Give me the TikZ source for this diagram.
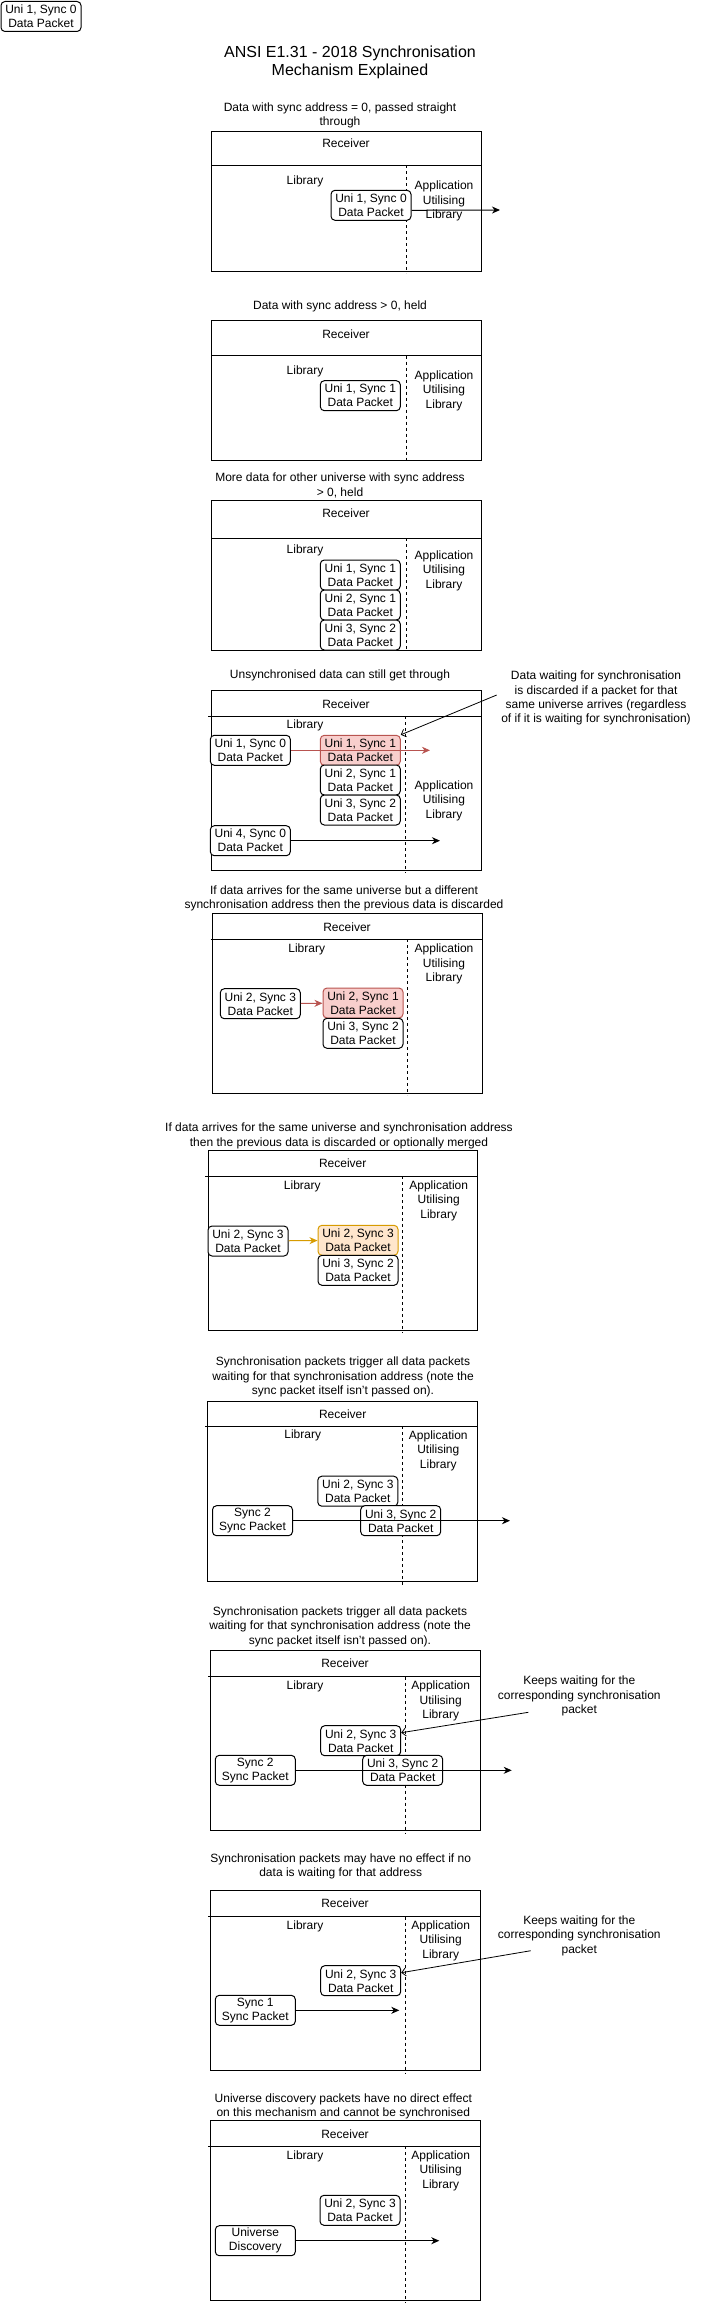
\documentclass[tikz,border=0pt]{standalone}
\usepackage{fontspec}
\setmainfont{Liberation Sans}
\usetikzlibrary{arrows.meta}
\definecolor{dropline}{HTML}{B85450}
\definecolor{dropfill}{HTML}{F8CECC}
\definecolor{mergeline}{HTML}{D79B00}
\definecolor{mergefill}{HTML}{FFE6CC}
\tikzset{
  packet/.style={draw, line width=1pt, rounded corners=4pt, fill=white,
    minimum width=80pt, minimum height=30pt, inner sep=0pt, align=center,
    font=\fontsize{12}{14}\selectfont},
  droppacket/.style={packet, draw=dropline, fill=dropfill},
  mergepacket/.style={packet, draw=mergeline, fill=mergefill},
  lbl/.style={align=center, inner sep=0pt, font=\fontsize{12}{14.2}\selectfont},
  rcvframe/.style={line width=1pt},
  divider/.style={line width=1pt, dash pattern=on 3pt off 3pt},
  flow/.style={->, >={Stealth[length=8pt,width=7pt,inset=2.5pt]}, line width=1pt},
  noteflow/.style={->, >={Straight Barb[length=4pt,width=8pt]}, line width=0.8pt},
}

\begin{document}
\begin{tikzpicture}[x=1pt,y=-1pt]
\useasboundingbox (0,0) rectangle (702,2307);

\node[packet] (key0) at (41,16.5) {Uni 1, Sync 0\\Data Packet};
\node[lbl, font=\fontsize{16}{18}\selectfont] (title) at (350,62) {ANSI E1.31 - 2018 Synchronisation\\Mechanism Explained};

% 1
\node[lbl] (cap1) at (340,115.5) {Data with sync address = 0, passed straight\\through};
\draw[rcvframe] (211,131) rectangle (481,271) (211,165) -- (481,165);
\draw[divider] (406,165) -- (406,273);
\node[lbl] (rcv1) at (346,143.3) {Receiver};
\node[lbl] (lib1) at (305,181) {Library};
\node[lbl] (app1) at (444,201) {Application\\Utilising\\Library};
\node[packet] (a10) at (371,205.3) {Uni 1, Sync 0\\Data Packet};
\coordinate (out1) at (500,210);
\draw[flow] ([yshift=-5pt]a10.east) -- (out1);

% 2
\node[lbl] (cap2) at (340,306) {Data with sync address > 0, held};
\draw[rcvframe] (211,320.3) rectangle (481,460.3) (211,355.7) -- (481,355.7);
\draw[divider] (406,355.7) -- (406,463);
\node[lbl] (rcv2) at (346,334) {Receiver};
\node[lbl] (lib2) at (305,371) {Library};
\node[lbl] (app2) at (444,390.7) {Application\\Utilising\\Library};
\node[packet] (b11) at (360.3,395.7) {Uni 1, Sync 1\\Data Packet};

% 3
\node[lbl] (cap3) at (340,485.5) {More data for other universe with sync address\\> 0, held};
\draw[rcvframe] (211,500.7) rectangle (481,650.7) (211,538.3) -- (481,538.3);
\draw[divider] (406,538.3) -- (406,651.7);
\node[lbl] (rcv3) at (346,513.3) {Receiver};
\node[lbl] (lib3) at (305,550.7) {Library};
\node[lbl] (app3) at (444,570.7) {Application\\Utilising\\Library};
\node[packet] (c11) at (360.3,575) {Uni 1, Sync 1\\Data Packet};
\node[packet] (c21) at (360.3,605) {Uni 2, Sync 1\\Data Packet};
\node[packet] (c32) at (360.3,635) {Uni 3, Sync 2\\Data Packet};

% 4
\node[lbl] (cap4) at (340,675.7) {Unsynchronised data can still get through};
\draw[rcvframe] (211,690.7) rectangle (481,870) (208.3,716.3) -- (481,716.3);
\draw[divider] (405,716.3) -- (405,873);
\node[lbl] (rcv4) at (346,704) {Receiver};
\node[lbl] (lib4) at (305,725.7) {Library};
\node[lbl] (app4) at (444,800.7) {Application\\Utilising\\Library};
\node[packet] (d10) at (250.3,750.3) {Uni 1, Sync 0\\Data Packet};
\node[droppacket] (d11) at (360.3,750.3) {Uni 1, Sync 1\\Data Packet};
\node[packet] (d21) at (360.3,780) {Uni 2, Sync 1\\Data Packet};
\node[packet] (d32) at (360.3,810) {Uni 3, Sync 2\\Data Packet};
\node[packet] (d40) at (250.3,840.7) {Uni 4, Sync 0\\Data Packet};
\node[lbl] (note4) at (596,698) {Data waiting for synchronisation\\is discarded if a packet for that\\same universe arrives (regardless\\of if it is waiting for synchronisation)};
\coordinate (out4a) at (430,750.3);
\coordinate (out4b) at (440,840.7);
\coordinate (from4) at (496.7,695);
\draw[flow, dropline] (d10.east) -- (out4a);
\draw[flow] (d40.east) -- (out4b);
\draw[noteflow] (from4) -- (d11.north east);

% 5
\node[lbl] (cap5) at (344,898.7) {If data arrives for the same universe but a different\\synchronisation address then the previous data is discarded};
\draw[rcvframe] (212.7,913.3) rectangle (482.7,1093.3) (210.7,939) -- (482.7,939);
\draw[divider] (407.7,939) -- (407.7,1095);
\node[lbl] (rcv5) at (347,926.7) {Receiver};
\node[lbl] (lib5) at (306.7,949) {Library};
\node[lbl] (app5) at (444,964) {Application\\Utilising\\Library};
\node[packet] (e23) at (260.3,1003.7) {Uni 2, Sync 3\\Data Packet};
\node[droppacket] (e21) at (363,1003) {Uni 2, Sync 1\\Data Packet};
\node[packet] (e32) at (363,1033.3) {Uni 3, Sync 2\\Data Packet};
\draw[flow, dropline] (e23) -- (e21);

% 6
\node[lbl] (cap6) at (339,1135.8) {If data arrives for the same universe and synchronisation address\\then the previous data is discarded or optionally merged};
\draw[rcvframe] (208,1150.7) rectangle (477.7,1330) (205,1176) -- (477.7,1176);
\draw[divider] (402.7,1176) -- (402.7,1333.3);
\node[lbl] (rcv6) at (342.7,1163.3) {Receiver};
\node[lbl] (lib6) at (302.3,1186) {Library};
\node[lbl] (app6) at (438.7,1200.7) {Application\\Utilising\\Library};
\node[packet] (f23) at (248,1241) {Uni 2, Sync 3\\Data Packet};
\node[mergepacket] (f23m) at (358,1240.3) {Uni 2, Sync 3\\Data Packet};
\node[packet] (f32) at (358,1270.3) {Uni 3, Sync 2\\Data Packet};
\draw[flow, mergeline] (f23) -- (f23m);

% 7
\node[lbl] (cap7) at (343,1377) {Synchronisation packets trigger all data packets\\waiting for that synchronisation address (note the\\sync packet itself isn't passed on).};
\draw[rcvframe] (207.7,1401) rectangle (477.3,1581) (205,1426.3) -- (477.3,1426.3);
\draw[divider] (402.7,1426.3) -- (402.7,1585);
\node[lbl] (rcv7) at (342.7,1414.3) {Receiver};
\node[lbl] (lib7) at (302.7,1435.7) {Library};
\node[lbl] (app7) at (438.3,1450.8) {Application\\Utilising\\Library};
\node[packet] (g23) at (357.8,1491.2) {Uni 2, Sync 3\\Data Packet};
\node[packet] (g2) at (252.5,1520.7) {Sync 2\\Sync Packet};
\node[packet] (g32) at (400.7,1520.7) {Uni 3, Sync 2\\Data Packet};
\coordinate (out7) at (510,1520.7);
\draw[flow] (g2.east) -- (out7);

% 8
\node[lbl] (cap8) at (340,1626.7) {Synchronisation packets trigger all data packets\\waiting for that synchronisation address (note the\\sync packet itself isn't passed on).};
\draw[rcvframe] (210.7,1650.7) rectangle (480.7,1830) (208.3,1676.7) -- (480.7,1676.7);
\draw[divider] (405,1676.7) -- (405,1833.3);
\node[lbl] (rcv8) at (345,1663.3) {Receiver};
\node[lbl] (lib8) at (305,1686) {Library};
\node[lbl] (app8) at (440.7,1701) {Application\\Utilising\\Library};
\node[packet] (h23) at (360.7,1740.7) {Uni 2, Sync 3\\Data Packet};
\node[packet] (h2) at (255.3,1770.3) {Sync 2\\Sync Packet};
\node[packet] (h32) at (402.7,1770.3) {Uni 3, Sync 2\\Data Packet};
\node[lbl] (note8) at (579.3,1696) {Keeps waiting for the\\corresponding synchronisation\\packet};
\coordinate (out8) at (511.7,1770.3);
\coordinate (from8) at (528.3,1712.3);
\draw[flow] (h2.east) -- (out8);
\draw[noteflow] (from8) -- ([yshift=8pt]h23.east);

% 9
\node[lbl] (cap9) at (340.7,1866.3) {Synchronisation packets may have no effect if no\\data is waiting for that address};
\draw[rcvframe] (210.7,1890.7) rectangle (480.7,2070) (208.3,1916.7) -- (480.7,1916.7);
\draw[divider] (405,1916.7) -- (405,2073);
\node[lbl] (rcv9) at (345,1903.3) {Receiver};
\node[lbl] (lib9) at (305,1926) {Library};
\node[lbl] (app9) at (440.7,1940.7) {Application\\Utilising\\Library};
\node[packet] (i23) at (360.7,1980.7) {Uni 2, Sync 3\\Data Packet};
\node[packet] (i1) at (255.3,2010.3) {Sync 1\\Sync Packet};
\node[lbl] (note9) at (579.3,1935.8) {Keeps waiting for the\\corresponding synchronisation\\packet};
\coordinate (out9) at (399.3,2010.3);
\coordinate (from9) at (530.7,1950.7);
\draw[flow] (i1.east) -- (out9);
\draw[noteflow] (from9) -- ([yshift=8pt]i23.east);

% 10
\node[lbl] (cap10) at (343.3,2106.2) {Universe discovery packets have no direct effect\\on this mechanism and cannot be synchronised};
\draw[rcvframe] (210.7,2120) rectangle (480,2300) (208.3,2146.3) -- (480,2146.3);
\draw[divider] (405,2146.3) -- (405,2303.3);
\node[lbl] (rcv10) at (345,2134) {Receiver};
\node[lbl] (lib10) at (305,2156) {Library};
\node[lbl] (app10) at (440.7,2170.8) {Application\\Utilising\\Library};
\node[packet] (j23) at (360,2210.3) {Uni 2, Sync 3\\Data Packet};
\node[packet] (jdisc) at (255.3,2240.7) {Universe\\Discovery};
\coordinate (out10) at (439.3,2240.7);
\draw[flow] (jdisc.east) -- (out10);
\end{tikzpicture}
\end{document}
